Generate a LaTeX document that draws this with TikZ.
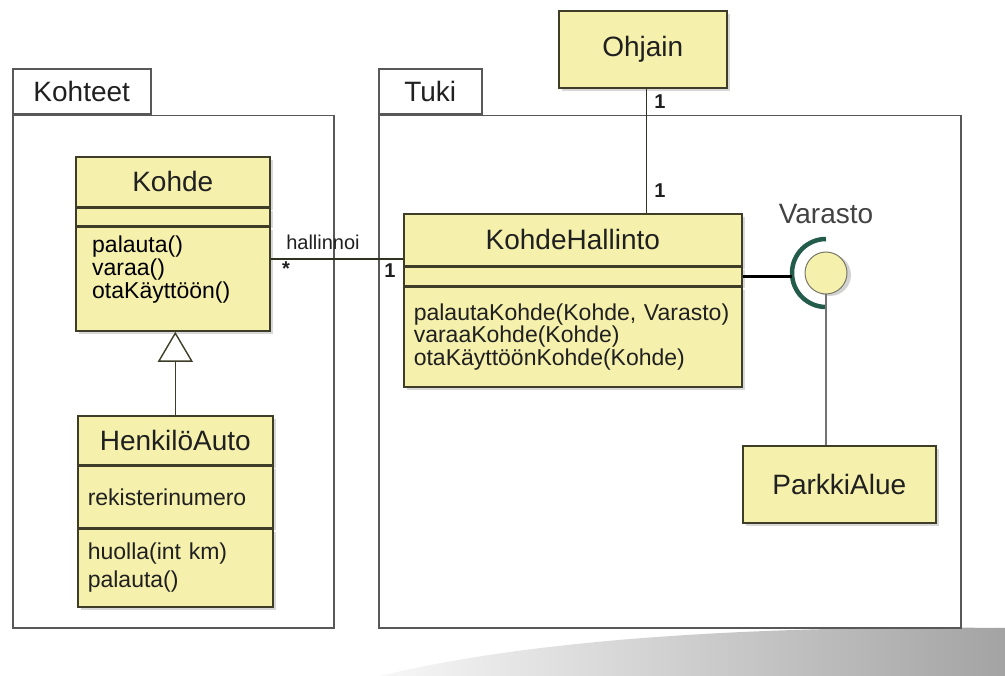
\documentclass[tikz,border=0pt]{standalone}
\usepackage{fontspec}
\setmainfont{Liberation Sans}
\usetikzlibrary{arrows.meta,shadows,calc}
\definecolor{umlYellow}{RGB}{245,240,172}
\definecolor{umlEdge}{RGB}{62,62,40}
\definecolor{pkgEdge}{RGB}{88,88,88}
\definecolor{txtDark}{RGB}{32,32,32}
\definecolor{sockGreen}{RGB}{35,92,74}
\newcommand\tightlines{\lineskiplimit=-30pt\relax}

\tikzset{
  pkgtab/.style={draw=pkgEdge, line width=1.5pt, fill=white, inner sep=0pt,
    font=\fontsize{28}{30}\selectfont, text=txtDark},
  pkgbody/.style={draw=pkgEdge, line width=1.5pt, fill=white, inner sep=0pt},
  classpart/.style={draw=umlEdge, line width=1.6pt, fill=umlYellow, inner sep=0pt, text=txtDark,
    drop shadow={shadow xshift=3pt, shadow yshift=-3pt, opacity=0.3}},
  titletext/.style={font=\fontsize{28}{30}\selectfont},
  opstext/.style={font=\fontsize{23}{23}\selectfont\tightlines, align=left, inner xsep=10pt},
  mult/.style={font=\bfseries\fontsize{20}{22}\selectfont, text=txtDark, inner sep=0pt},
  assoc/.style={draw=umlEdge!80!black, line width=1.2pt},
  inherit/.style={draw=umlEdge, line width=1.4pt, -{Triangle[open, length=30pt, width=35pt, fill=white]}},
  ball/.style={circle, minimum size=42, inner sep=0pt, draw=umlEdge!70, line width=1pt, fill=umlYellow,
    drop shadow={shadow xshift=4pt, shadow yshift=-2pt, opacity=0.35}},
  socket/.style={draw=sockGreen, line width=4.5pt},
  required/.style={draw=black, line width=3.5pt},
  provided/.style={draw=black!55, line width=1.3pt},
}

\begin{document}
\begin{tikzpicture}[x=1pt, y=-1pt]
    \useasboundingbox (0,0) rectangle (1005,676);
    \fill[white] (0,0) rectangle (1005,676);
    \shade[left color=black!3, right color=black!36]
      (380,676) .. controls (560,632) and (820,626) .. (1005,628) -- (1005,676) -- cycle;

    \node[pkgtab, minimum width=138, minimum height=45, anchor=south west] (kohteettab) at (12,115) {Kohteet};
    \node[pkgbody, minimum width=321, minimum height=512, anchor=north west] (kohteet) at (12,115) {};

    \node[pkgtab, minimum width=103, minimum height=45, anchor=south west] (tukitab) at (378,115) {Tuki};
    \node[pkgbody, minimum width=582, minimum height=512, anchor=north west] (tuki) at (378,115) {};

    \node[classpart, titletext, minimum width=194, minimum height=50, anchor=north west] (kohde) at (75,156) {Kohde};
    \node[classpart, minimum width=194, minimum height=17, anchor=north] (kohdeattr) at (kohde.south) {};
    \node[classpart, minimum width=194, minimum height=104, anchor=north] (kohdeops) at (kohdeattr.south) {};
    \node[opstext, inner sep=0pt, anchor=north west] (kohdeopstxt) at ([xshift=17pt, yshift=-9pt]kohdeops.north west)
      {palauta()\\varaa()\\otaKäyttöön()};

    \node[classpart, titletext, minimum width=195, minimum height=49, anchor=north west] (henkiloauto) at (77,415) {HenkilöAuto};
    \node[classpart, opstext, text width=175pt, minimum height=61, anchor=north] (haattr) at (henkiloauto.south) {rekisterinumero};
    \node[classpart, opstext, font=\fontsize{23}{28}\selectfont, text width=175pt, minimum height=78, anchor=north] (haops) at (haattr.south)
      {huolla(int km)\\palauta()};

    \node[classpart, titletext, minimum width=338, minimum height=52, anchor=north west] (kohdehallinto) at (403,213) {KohdeHallinto};
    \node[classpart, minimum width=338, minimum height=18, anchor=north] (khattr) at (kohdehallinto.south) {};
    \node[classpart, opstext, font=\fontsize{23}{22.5}\selectfont\tightlines, text width=318pt, minimum height=100, anchor=north] (khops) at (khattr.south)
      {palautaKohde(Kohde, Varasto)\\varaaKohde(Kohde)\\otaKäyttöönKohde(Kohde)};

    \node[classpart, titletext, minimum width=168, minimum height=77, anchor=north west] (ohjain) at (558,10) {Ohjain};
    \node[classpart, titletext, minimum width=193, minimum height=77, anchor=north west] (parkkialue) at (742,445) {ParkkiAlue};

    \node[ball] (varasto) at (826,273) {};
    \draw[socket] ([yshift=34pt]varasto.center) arc[start angle=90, end angle=270, radius=34pt];
    \coordinate (sockleft) at ([xshift=-34pt]varasto.center);
    \node[titletext, text=txtDark!85] (varastolbl) at (826,214) {Varasto};

    \draw[inherit] (henkiloauto.north) -- (henkiloauto.north |- kohdeops.south);
    \draw[assoc] ([yshift=20pt]kohdeops.east) -- ([yshift=20pt]kohdeops.east -| kohdehallinto.west);
    \draw[assoc] ([xshift=4pt]ohjain.south) -- ([xshift=4pt]ohjain.south |- kohdehallinto.north);
    \draw[required] (khattr.east) -- (khattr.east -| sockleft);
    \draw[provided] (varasto.south) -- (varasto.south |- parkkialue.north);

    \node[mult, font=\fontsize{20}{22}\selectfont] (hallinnoilbl) at (323,242) {hallinnoi};
    \node[mult] (kohdestar) at (286,269) {*};
    \node[mult] (khone) at (390,271) {1};
    \node[mult] (ohjainone) at (660,102) {1};
    \node[mult] (khtopone) at (660,191) {1};
\end{tikzpicture}
\end{document}
